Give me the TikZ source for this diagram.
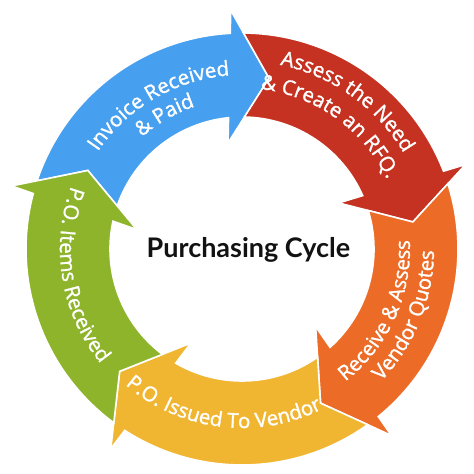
\documentclass[tikz,border=0pt]{standalone}
\usepackage{fontspec}
\usetikzlibrary{decorations.text}
\newfontfamily\arrowfont[FakeBold=1.3]{Open Sans}
\newfontfamily\titlefont{Lato}
\definecolor{cblue}{HTML}{479FEF}
\definecolor{cred}{HTML}{C53221}
\definecolor{corange}{HTML}{EC6C27}
\definecolor{cyellow}{HTML}{F1B631}
\definecolor{cgreen}{HTML}{8DB42A}
\tikzset{
  segment/.style={fill=#1, draw=white, line width=1.6pt, line join=miter},
  cwtext/.style={decorate, decoration={text along path, text align=center, text color=white,
      text={|\arrowfont\fontsize{20.5}{20.5}\selectfont|#1}}},
}
\begin{document}
\begin{tikzpicture}
\useasboundingbox (-242pt,-225pt) rectangle (232pt,249pt);
\foreach \c/\a in {cblue/81, cred/9, corange/-63, cyellow/-135, cgreen/-207} {
  \filldraw[segment=\c, rotate=\a] (11.7:239pt) -- (12.12:216pt)
     arc[start angle=12.12, end angle=80.59, radius=216pt] -- (72:173pt) -- (79.95:132pt)
     arc[start angle=79.95, end angle=14.85, radius=132pt] -- (16.5:107pt) -- (0:173pt) -- cycle;
}
% blue (clockwise, tops outward)
\path[cwtext={Invoice Received}] (170:174pt) arc[start angle=170, end angle=70, radius=174pt];
\path[cwtext={{\&} Paid}] (170:150pt) arc[start angle=170, end angle=70, radius=150pt];
% red
\path[cwtext={Assess the Need}] (104.5:188pt) arc[start angle=104.5, end angle=4.5, radius=188pt];
\path[cwtext={{\&} Create an RFQ.}] (104.5:161pt) arc[start angle=104.5, end angle=4.5, radius=161pt];
% orange (counter-clockwise, tops inward)
\path[cwtext={Receive {\&} Assess}] (-74.5:168pt) arc[start angle=-74.5, end angle=25.5, radius=168pt];
\path[cwtext={Vendor Quotes}] (-72:192pt) arc[start angle=-72, end angle=28, radius=192pt];
% yellow
\path[cwtext={P.O. Issued To Vendor}] (-157:179pt) arc[start angle=-157, end angle=-37, radius=179pt];
% green
\path[cwtext={P.O. Items Received}] (129.4:182pt) arc[start angle=129.4, end angle=249.4, radius=182pt];
% title
\node[anchor=base, text=black!93, font=\titlefont\bfseries\fontsize{27}{27}\selectfont] (title) at (6.5pt,-8pt) {Purchasing Cycle};
\end{tikzpicture}
\end{document}
